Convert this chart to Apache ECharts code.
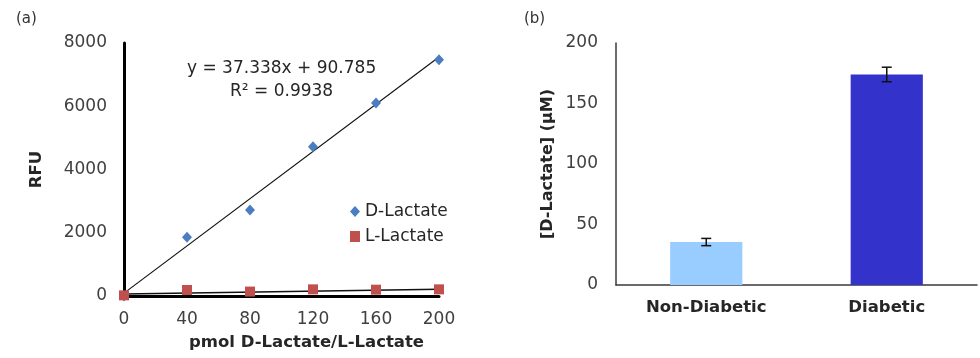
<!DOCTYPE html>
<html><head><meta charset="utf-8">
<script src="https://cdn.jsdelivr.net/npm/echarts@6/dist/echarts.min.js"></script>
<style>html,body{margin:0;padding:0;background:#fff}#c{width:980px;height:358px}</style>
</head><body><div id="c"></div>
<script>
// ---- data ----
const xPmol = [0, 40, 80, 120, 160, 200];
const dLactate = [0, 1860, 2720, 4720, 6100, 7470];
const lLactate = [20, 190, 140, 210, 200, 210];
const dTrendX = [0, 200];
const dTrendY = [90.785, 7558.4];
const lTrendX = [0, 200];
const lTrendY = [60, 215];
const xTicks = [0, 40, 80, 120, 160, 200];
const yTicksA = [0, 2000, 4000, 6000, 8000];
const equationText = 'y = 37.338x + 90.785';
const r2Text = 'R² = 0.9938';

const groups = ['Non-Diabetic', 'Diabetic'];
const concentration = [35.5, 174];
const concErr = [3, 6];
const groupColors = ['#99CCFF', '#3333CC'];
const yTicksB = [0, 50, 100, 150, 200];

const pairs = (xs, ys) => xs.map((x, i) => [x, ys[i]]);
const FONT = 'DejaVu Sans';
const lab = {fontFamily: FONT, fontSize: 17, color: '#404040'};
const bold = {fontFamily: FONT, fontSize: 16.5, fontWeight: 'bold', color: '#262626'};
const plain = v => String(v);

const chart = echarts.init(document.getElementById('c'), null, {renderer: 'canvas'});
chart.setOption({
  animation: false,
  backgroundColor: '#fff',
  title: [
    {text: '(a)', left: 11, top: 7, textStyle: {fontFamily: FONT, fontSize: 15, fontWeight: 'normal', color: '#333'}},
    {text: '(b)', left: 519, top: 7, textStyle: {fontFamily: FONT, fontSize: 15, fontWeight: 'normal', color: '#333'}}
  ],
  grid: [
    {left: 124, top: 43, width: 315, height: 253},
    {left: 616, top: 43, width: 361, height: 242}
  ],
  legend: {
    orient: 'vertical', left: 345, top: 198, itemGap: 8, itemWidth: 10, itemHeight: 11,
    textStyle: Object.assign({}, lab, {color: '#262626', lineHeight: 17}),
    data: [
      {name: 'D-Lactate', icon: 'diamond'},
      {name: 'L-Lactate', icon: 'rect'}
    ]
  },
  xAxis: [
    {gridIndex: 0, type: 'value', min: 0, max: 200, interval: 40,
     name: 'pmol D-Lactate/L-Lactate', nameLocation: 'middle', nameGap: 38,
     nameTextStyle: Object.assign({}, bold, {padding: [0, 0, 0, 50]}),
     axisLine: {lineStyle: {color: '#000', width: 3}}, axisTick: {show: false},
     splitLine: {show: false}, axisLabel: Object.assign({margin: 15, formatter: plain}, lab)},
    {gridIndex: 1, type: 'category', data: groups,
     axisLine: {lineStyle: {color: '#3a3a3a', width: 1.5}}, axisTick: {show: false},
     axisLabel: Object.assign({margin: 14}, bold)}
  ],
  yAxis: [
    {gridIndex: 0, type: 'value', min: 0, max: 8000, interval: 2000,
     name: 'RFU', nameLocation: 'middle', nameGap: 79, nameTextStyle: bold,
     axisLine: {show: true, lineStyle: {color: '#000', width: 3}}, axisTick: {show: false},
     splitLine: {show: false}, axisLabel: Object.assign({margin: 17, formatter: plain}, lab)},
    {gridIndex: 1, type: 'value', min: 0, max: 200, interval: 50,
     name: '[D-Lactate] (µM)', nameLocation: 'middle', nameGap: 60,
     nameTextStyle: Object.assign({}, bold, {fontSize: 16}),
     axisLine: {show: true, lineStyle: {color: '#3a3a3a', width: 1.5}}, axisTick: {show: false},
     splitLine: {show: false}, axisLabel: Object.assign({margin: 18, formatter: plain}, lab)}
  ],
  graphic: [
    {type: 'text', left: 187, top: 60, style: {text: equationText, font: '17px "DejaVu Sans"', fill: '#262626'}},
    {type: 'text', left: 230, top: 83, style: {text: r2Text, font: '17px "DejaVu Sans"', fill: '#262626'}}
  ],
  series: [
    {name: 'D-Lactate trend', type: 'line', xAxisIndex: 0, yAxisIndex: 0, data: pairs(dTrendX, dTrendY),
     symbol: 'none', lineStyle: {color: '#111', width: 1.2}, z: 2, silent: true},
    {name: 'L-Lactate trend', type: 'line', xAxisIndex: 0, yAxisIndex: 0, data: pairs(lTrendX, lTrendY),
     symbol: 'none', lineStyle: {color: '#111', width: 1.5}, z: 2, silent: true},
    {name: 'D-Lactate', type: 'scatter', xAxisIndex: 0, yAxisIndex: 0, data: pairs(xPmol, dLactate),
     symbol: 'diamond', symbolSize: [10, 11], itemStyle: {color: '#4A7EC0', opacity: 1}, z: 3},
    {name: 'L-Lactate', type: 'scatter', xAxisIndex: 0, yAxisIndex: 0, data: pairs(xPmol, lLactate),
     symbol: 'rect', symbolSize: [10, 10], itemStyle: {color: '#C0504D', opacity: 1}, z: 4},
    {name: 'Concentration', type: 'bar', xAxisIndex: 1, yAxisIndex: 1, barWidth: '40%',
     data: concentration.map((v, i) => ({value: v, itemStyle: {color: groupColors[i]}}))},
    {name: 'Error', type: 'custom', xAxisIndex: 1, yAxisIndex: 1, z: 5,
     data: concentration.map((v, i) => [i, v - concErr[i], v + concErr[i]]),
     renderItem: function (params, api) {
       const lo = api.coord([api.value(0), api.value(1)]);
       const hi = api.coord([api.value(0), api.value(2)]);
       const w = 5;
       const st = {stroke: '#111', lineWidth: 1.5};
       return {type: 'group', children: [
         {type: 'line', shape: {x1: lo[0], y1: lo[1], x2: hi[0], y2: hi[1]}, style: st},
         {type: 'line', shape: {x1: lo[0] - w, y1: lo[1], x2: lo[0] + w, y2: lo[1]}, style: st},
         {type: 'line', shape: {x1: hi[0] - w, y1: hi[1], x2: hi[0] + w, y2: hi[1]}, style: st}
       ]};
     }}
  ]
});
</script></body></html>
